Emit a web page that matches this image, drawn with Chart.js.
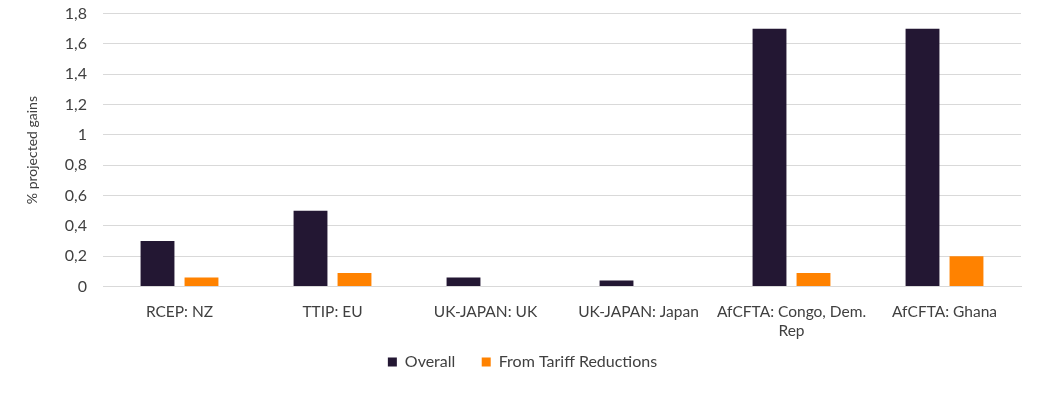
<!DOCTYPE html>
<html>
<head>
<meta charset="utf-8">
<script src="https://cdn.jsdelivr.net/npm/chart.js@4/dist/chart.umd.min.js"></script>
<style>
html,body{margin:0;padding:0;background:#fff;}
#wrap{width:1044px;height:395px;position:relative;}
</style>
</head>
<body>
<div id="wrap"><canvas id="c" width="1044" height="395"></canvas></div>
<script>
const categories = ["RCEP: NZ", "TTIP: EU", "UK-JAPAN: UK", "UK-JAPAN: Japan", ["AfCFTA: Congo, Dem.", "Rep"], "AfCFTA: Ghana"];
const overall = [0.3, 0.5, 0.06, 0.04, 1.7, 1.7];
const tariff = [0.06, 0.09, 0, 0, 0.09, 0.2];
const seriesNames = ["Overall", "From Tariff Reductions"];
const yTitle = "% projected gains";

const FONT = "Lato, 'Open Sans', sans-serif";
const TXT = "#404040";

new Chart(document.getElementById('c'), {
  type: 'bar',
  data: {
    labels: categories,
    datasets: [
      {label: seriesNames[0], data: overall, backgroundColor: '#231733', categoryPercentage: 0.575, barPercentage: 0.77},
      {label: seriesNames[1], data: tariff, backgroundColor: '#ff8200', categoryPercentage: 0.575, barPercentage: 0.77}
    ]
  },
  options: {
    responsive: false,
    animation: false,
    layout: {padding: {left: 24, right: 23, top: 0, bottom: 15}},
    plugins: {
      legend: {
        position: 'bottom',
        labels: {
          boxWidth: 9, boxHeight: 9, padding: 10.4, color: TXT, font: {family: FONT, size: 16},
          generateLabels: chart => {
            const items = Chart.defaults.plugins.legend.labels.generateLabels(chart);
            items.forEach((it, i) => { if (i < items.length - 1) it.text = it.text + '\u2002\u2002'; });
            return items;
          }
        }
      },
      tooltip: {enabled: false}
    },
    scales: {
      x: {
        grid: {display: false},
        border: {color: '#d9d9d9'},
        ticks: {color: TXT, font: {family: FONT, size: 15.5}, maxRotation: 0, padding: 8},
        afterFit: s => { s.height = 57; }
      },
      y: {
        min: 0, max: 1.8,
        grid: {color: '#d9d9d9', drawTicks: true, tickLength: 12, tickColor: 'rgba(0,0,0,0)'},
        border: {display: false},
        ticks: {stepSize: 0.2, color: TXT, padding: 4, font: {family: FONT, size: 16},
          callback: v => String(Math.round(v*10)/10).replace('.', ',')},
        title: {display: true, text: yTitle, color: TXT, padding: {top: 0, bottom: 0}, font: {family: FONT, size: 14}},
        afterFit: s => { s.width = 79; }
      }
    }
  }
});
</script>
</body>
</html>
